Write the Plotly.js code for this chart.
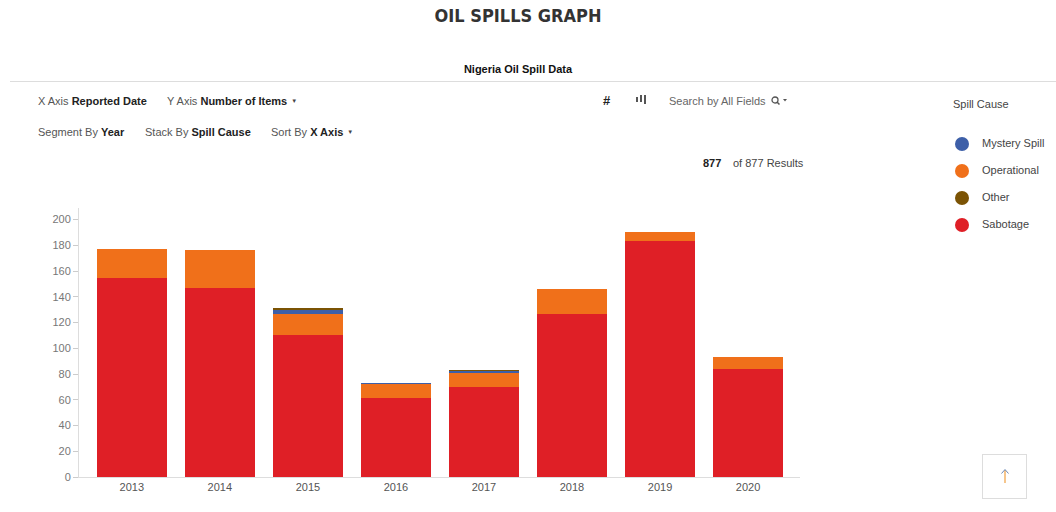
<!DOCTYPE html>
<html>
<head>
<meta charset="utf-8">
<script src="https://cdn.plot.ly/plotly-3.0.1.min.js"></script>
<style>
  html, body { margin:0; padding:0; width:1056px; height:512px; overflow:hidden; background:#fff; font-family:"Liberation Sans", Arial, sans-serif; }
  #chart { position:absolute; left:0; top:0; width:1056px; height:512px; }
  .t { position:absolute; white-space:nowrap; font-size:11px; color:#555; line-height:14px; }
  .t b { color:#222; font-weight:bold; }
  .caret { font-size:6px; color:#444; vertical-align:2px; margin-left:4px; }
  .leg { position:absolute; font-size:11px; color:#444; white-space:nowrap; line-height:14px; }
  .dot { position:absolute; width:14px; height:14px; border-radius:50%; }
</style>
</head>
<body>
<div id="chart"></div>

<div class="t" style="left:0;width:1036px;top:6px;text-align:center;font-family:'DejaVu Sans Condensed','DejaVu Sans',sans-serif;font-stretch:condensed;font-size:18px;line-height:20px;font-weight:bold;color:#333;">OIL SPILLS GRAPH</div>
<div class="t" style="left:0;width:1036px;top:62px;text-align:center;font-size:11px;font-weight:bold;color:#111;">Nigeria Oil Spill Data</div>
<div style="position:absolute;left:10px;top:81px;width:1046px;height:1px;background:#ddd;"></div>

<div class="t" style="left:38px;top:94px;">X Axis <b>Reported Date</b></div>
<div class="t" style="left:167px;top:94px;">Y Axis <b>Number of Items</b><span class="caret">&#9660;</span></div>
<div class="t" style="left:38px;top:125px;">Segment By <b>Year</b></div>
<div class="t" style="left:145px;top:125px;">Stack By <b>Spill Cause</b></div>
<div class="t" style="left:271px;top:125px;">Sort By <b>X Axis</b><span class="caret">&#9660;</span></div>

<div class="t" style="left:603px;top:94px;font-size:13px;font-weight:bold;color:#222;">#</div>
<div style="position:absolute;left:636px;top:97px;width:2px;height:5px;background:#555;"></div>
<div style="position:absolute;left:640px;top:95px;width:2px;height:7px;background:#555;"></div>
<div style="position:absolute;left:644px;top:95px;width:2px;height:9px;background:#555;"></div>
<div class="t" style="left:669px;top:94px;color:#666;">Search by All Fields</div>
<svg style="position:absolute;left:771px;top:96px;" width="18" height="10" viewBox="0 0 18 10">
  <circle cx="4" cy="4" r="3" fill="none" stroke="#555" stroke-width="1.3"/>
  <line x1="6.2" y1="6.2" x2="8.5" y2="8.5" stroke="#555" stroke-width="1.5"/>
  <path d="M12 3 L16 3 L14 5.5 Z" fill="#555"/>
</svg>
<div class="t" style="left:703px;top:156px;font-weight:bold;color:#222;">877</div>
<div class="t" style="left:733px;top:156px;color:#444;">of 877 Results</div>

<div class="leg" style="left:953px;top:97px;">Spill Cause</div>
<div id="legend"></div>

<div style="position:absolute;left:982px;top:454px;width:45px;height:45px;border:1px solid #ddd;box-sizing:border-box;"></div>
<svg style="position:absolute;left:999px;top:468px;" width="12" height="16" viewBox="0 0 12 16">
  <line x1="6" y1="2" x2="6" y2="15" stroke="#f0a040" stroke-width="1.2"/>
  <path d="M2.5 5.5 L6 1.5 L9.5 5.5" fill="none" stroke="#6a88b8" stroke-width="1"/>
</svg>

<script>
// ---- data ----
var years = ["2013", "2014", "2015", "2016", "2017", "2018", "2019", "2020"];
var causes = ["Sabotage", "Operational", "Mystery Spill", "Other"];
var sabotage    = [155, 147, 110, 61, 70, 127, 183, 84];
var operational = [22, 29, 17, 11, 11, 19, 7, 9];
var mystery     = [0, 0, 3, 1, 1, 0, 0, 0];
var other       = [0, 0, 1, 0, 1, 0, 0, 0];
var legendOrder = ["Mystery Spill", "Operational", "Other", "Sabotage"];
var yTicks = [0, 20, 40, 60, 80, 100, 120, 140, 160, 180, 200];

var colors = {
  "Sabotage": "#df1f26",
  "Operational": "#f0701a",
  "Mystery Spill": "#3d5fa8",
  "Other": "#7b5304"
};
var series = {
  "Sabotage": sabotage,
  "Operational": operational,
  "Mystery Spill": mystery,
  "Other": other
};

var traces = causes.map(function (c) {
  return {
    type: "bar",
    name: c,
    x: years,
    y: series[c],
    marker: { color: colors[c], line: { width: 0 } },
    hoverinfo: "x+y+name"
  };
});

var layout = {
  width: 1056,
  height: 512,
  margin: { l: 79, r: 256, t: 208, b: 35 },
  barmode: "stack",
  bargap: 0.2,
  showlegend: false,
  paper_bgcolor: "rgba(0,0,0,0)",
  plot_bgcolor: "rgba(0,0,0,0)",
  font: { family: "Liberation Sans, Arial, sans-serif", size: 11, color: "#666" },
  xaxis: {
    type: "category",
    range: [-0.6, 7.59],
    showline: true,
    linecolor: "#ddd",
    linewidth: 1,
    ticks: "",
    showgrid: false,
    zeroline: false,
    tickfont: { size: 11, color: "#555" },
    fixedrange: true
  },
  yaxis: {
    range: [0, 209],
    tickvals: yTicks,
    ticktext: yTicks.map(String),
    showline: true,
    linecolor: "#ddd",
    linewidth: 1,
    ticks: "outside",
    ticklen: 5,
    tickcolor: "#ccc",
    showgrid: false,
    zeroline: false,
    tickfont: { size: 11, color: "#777" },
    fixedrange: true
  }
};

Plotly.newPlot("chart", traces, layout, { displayModeBar: false, staticPlot: true });

// legend (HTML)
var leg = document.getElementById("legend");
legendOrder.forEach(function (c, i) {
  var y = 144 + i * 27;
  var d = document.createElement("div");
  d.className = "dot";
  d.style.left = "955px";
  d.style.top = (y - 7) + "px";
  d.style.background = colors[c];
  leg.appendChild(d);
  var l = document.createElement("div");
  l.className = "leg";
  l.style.left = "982px";
  l.style.top = (y - 8) + "px";
  l.textContent = c;
  leg.appendChild(l);
});
</script>
</body>
</html>
